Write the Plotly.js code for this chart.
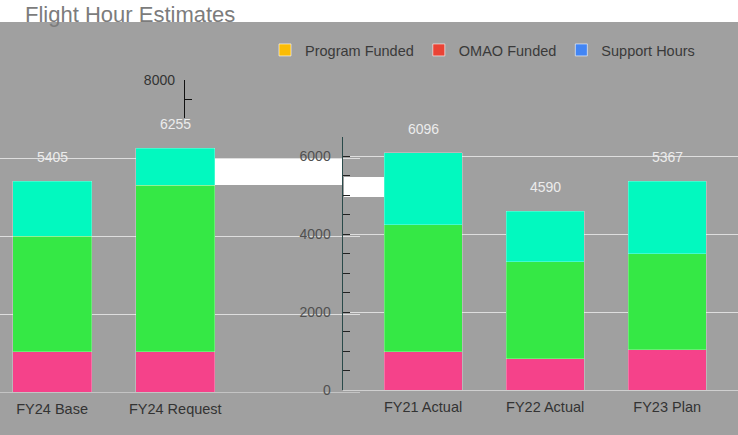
<!DOCTYPE html>
<html><head><meta charset="utf-8">
<script src="https://cdn.plot.ly/plotly-3.0.1.min.js"></script>
<style>html,body{margin:0;padding:0;background:#a0a0a0;}#chart{width:738px;height:435px;}</style>
</head><body><div id="chart"></div>
<script>
// ---- data ----
const categoriesLeft = ['FY24 Base', 'FY24 Request'];
const categoriesRight = ['FY21 Actual', 'FY22 Actual', 'FY23 Plan'];
const omaoLeft = [1030, 1030];
const programLeft = [2970, 4270];
const supportLeft = [1405, 955];
const omaoRight = [980, 800, 1030];
const programRight = [3260, 2500, 2470];
const supportRight = [1856, 1290, 1867];
const legendNames = ['Program Funded', 'OMAO Funded', 'Support Hours'];

const PINK = '#f5428a', GREEN = '#35e845', TEAL = '#02f9bf';
const legendColors = ['#fbbc04', '#ea4335', '#4285f4'];
const W = 738, H = 435;
const px = v => v / W, py = v => (H - v) / H;

function stack(cats, series, xa, ya) {
  return series.map(([vals, col]) => ({
    type: 'bar', x: cats, y: vals, xaxis: xa, yaxis: ya,
    marker: {color: col, line: {color: 'rgba(255,255,255,0.5)', width: 0.5}},
    showlegend: false, hoverinfo: 'skip'
  }));
}
const traces = [
  ...stack(categoriesLeft, [[omaoLeft, PINK], [programLeft, GREEN], [supportLeft, TEAL]], 'x', 'y'),
  ...stack(categoriesRight, [[omaoRight, PINK], [programRight, GREEN], [supportRight, TEAL]], 'x2', 'y2'),
  ...legendNames.map((n, i) => ({type: 'bar', x: [categoriesRight[0]], y: [null], xaxis: 'x2', yaxis: 'y2',
    name: n, marker: {color: legendColors[i], line: {color: 'rgba(255,255,255,0.6)', width: 1}}, showlegend: true})),
  {type: 'scatter', x: [], y: [], xaxis: 'x3', yaxis: 'y3', showlegend: false}
];

const totalsLeft = categoriesLeft.map((c, i) => omaoLeft[i] + programLeft[i] + supportLeft[i]);
const totalsRight = categoriesRight.map((c, i) => omaoRight[i] + programRight[i] + supportRight[i]);
const labelFont = {family: 'Liberation Sans, Arial, sans-serif', size: 14, color: '#ececec'};
const annotations = [
  ...categoriesLeft.map((c, i) => ({x: c, y: totalsLeft[i], xref: 'x', yref: 'y', text: String(totalsLeft[i]),
    showarrow: false, yanchor: 'bottom', yshift: 14, font: labelFont})),
  ...categoriesRight.map((c, i) => ({x: c, y: totalsRight[i], xref: 'x2', yref: 'y2', text: String(totalsRight[i]),
    showarrow: false, yanchor: 'bottom', yshift: 14, font: labelFont}))
];

const tickFont = {family: 'Liberation Sans, Arial, sans-serif', size: 14.5, color: '#333'};
const layout = {
  width: W, height: H,
  margin: {l: 0, r: 0, t: 0, b: 0, autoexpand: false},
  paper_bgcolor: '#a0a0a0', plot_bgcolor: 'rgba(0,0,0,0)',
  barmode: 'stack', bargap: 0.36,
  font: {family: 'Liberation Sans, Arial, sans-serif', color: '#333'},
  title: {text: 'Flight Hour Estimates', x: px(25), xanchor: 'left', y: 0.985, yanchor: 'top',
    font: {size: 22, color: '#7c7c7c', family: 'Liberation Sans, Arial, sans-serif'}},
  showlegend: true,
  legend: {orientation: 'h', traceorder: 'normal', x: px(265), xanchor: 'left', y: py(34), yanchor: 'top',
    font: {size: 14.5, color: '#3a3a3a'}, bgcolor: 'rgba(0,0,0,0)', itemclick: false},
  xaxis: {domain: [0, px(360)], range: [-0.423, 2.5], anchor: 'y', showgrid: false, zeroline: false,
    showline: false, ticks: '', tickfont: tickFont, ticklabelstandoff: 6},
  yaxis: {domain: [py(392), py(80)], range: [0, 8000], anchor: 'x', dtick: 2000, showticklabels: false,
    gridcolor: '#dedede', gridwidth: 1, zeroline: true, zerolinecolor: '#c4c4c4', ticks: '', showline: false},
  xaxis2: {domain: [px(343), 1], range: [-0.656, 2.58], anchor: 'y2', showgrid: false, zeroline: false,
    showline: false, ticks: '', tickfont: tickFont, ticklabelstandoff: 6},
  yaxis2: {domain: [py(390), py(137)], range: [0, 6500], anchor: 'x2', dtick: 2000, tick0: 0,
    gridcolor: '#dedede', gridwidth: 1, zeroline: true, zerolinecolor: '#cfcfcf',
    showline: true, linecolor: '#2a4a4a', linewidth: 1.5,
    ticks: 'inside', ticklen: 7, tickcolor: '#222',
    minor: {dtick: 500, ticks: 'inside', ticklen: 7, tickcolor: '#222', showgrid: false},
    tickfont: {size: 14, color: '#505050'}, ticklabelstandoff: 8},
  xaxis3: {domain: [px(185), px(190)], anchor: 'y3', visible: false},
  yaxis3: {domain: [py(118), py(80)], range: [7000, 8000], anchor: 'x3', showgrid: false, zeroline: false,
    showline: true, linecolor: '#111', linewidth: 1.2, ticks: 'inside', ticklen: 7, tickcolor: '#111',
    tickvals: [7000, 7500, 8000], ticktext: ['', '', '8000'], tickfont: {size: 14, color: '#333'},
    ticklabelstandoff: 6},
  annotations: annotations,
  shapes: [
    {type: 'rect', xref: 'paper', yref: 'paper', x0: 0, x1: 1, y0: py(22), y1: 1, fillcolor: '#ffffff', line: {width: 0}, layer: 'below'},
    {type: 'rect', xref: 'paper', yref: 'paper', x0: px(214), x1: px(342), y0: py(185), y1: py(159), fillcolor: '#ffffff', line: {width: 0}, layer: 'below'},
    {type: 'rect', xref: 'paper', yref: 'paper', x0: px(344), x1: px(385), y0: py(197), y1: py(177), fillcolor: '#ffffff', line: {width: 0}, layer: 'below'}
  ]
};
Plotly.newPlot('chart', traces, layout, {displayModeBar: false, staticPlot: true});
</script></body></html>
